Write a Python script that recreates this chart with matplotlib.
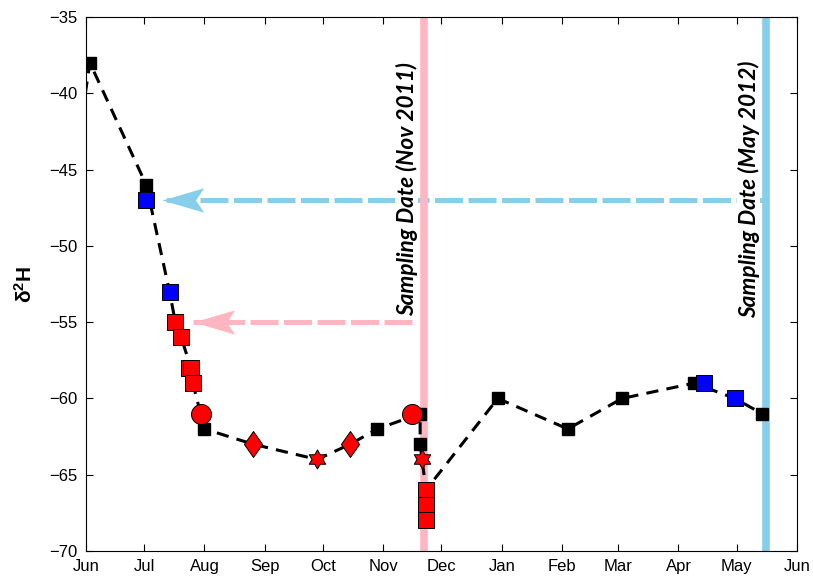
import numpy as np
import matplotlib
matplotlib.use("Agg")
import matplotlib.pyplot as plt
import matplotlib.dates as mdates
from matplotlib.path import Path

plt.rcParams['font.family'] = ['Liberation Sans', 'DejaVu Sans']
plt.rcParams['mathtext.fontset'] = 'custom'
plt.rcParams['mathtext.rm'] = 'Liberation Sans'
plt.rcParams['mathtext.bf'] = 'Liberation Sans:bold'

# black dashed line (all samples), first point lies before Jun 1
line_dates = np.array(['2011-05-27', '2011-06-03', '2011-07-02', '2011-07-14', '2011-07-17',
                       '2011-07-20', '2011-07-25', '2011-07-26', '2011-08-01', '2011-08-26',
                       '2011-09-28', '2011-10-15', '2011-10-29', '2011-11-20', '2011-11-20',
                       '2011-11-21', '2011-11-23', '2011-12-30', '2012-02-04', '2012-03-03',
                       '2012-04-09', '2012-04-30', '2012-05-14'], dtype='datetime64[D]')
line_vals = [-44, -38, -46, -53, -55, -56, -58, -59, -62, -63, -64, -63, -62, -61, -63,
             -64, -66, -60, -62, -60, -59, -60, -61]

# black squares
blk_dates = np.array(['2011-06-03', '2011-07-02', '2011-08-01', '2011-10-29', '2011-11-20',
                      '2011-11-20', '2011-12-30', '2012-02-04', '2012-03-03', '2012-04-09',
                      '2012-05-14'], dtype='datetime64[D]')
blk_vals = [-38, -46, -62, -62, -61, -63, -60, -62, -60, -59, -61]

# blue squares
blue_dates = np.array(['2011-07-02', '2011-07-14', '2012-04-14', '2012-04-30'], dtype='datetime64[D]')
blue_vals = [-47, -53, -59, -60]

# red squares
rsq_dates = np.array(['2011-07-17', '2011-07-20', '2011-07-24', '2011-07-25', '2011-07-26',
                      '2011-11-23', '2011-11-23', '2011-11-23'], dtype='datetime64[D]')
rsq_vals = [-55, -56, -58, -58, -59, -66, -67, -68]

# red circles, diamonds, stars
rci_dates = np.array(['2011-07-30', '2011-11-16'], dtype='datetime64[D]')
rci_vals = [-61, -61]
rdi_dates = np.array(['2011-08-26', '2011-10-15'], dtype='datetime64[D]')
rdi_vals = [-63, -63]
rst_dates = np.array(['2011-09-28', '2011-11-21'], dtype='datetime64[D]')
rst_vals = [-64, -64]

# sampling dates
samp_dates = np.array(['2011-11-22', '2012-05-16'], dtype='datetime64[D]')
samp_labels = ['Sampling Date (Nov 2011)', 'Sampling Date (May 2012)']
samp_colors = ['#FFB6C1', '#87CEEB']

# arrows: tail date, tip date, level
arr_tail = np.array(['2012-05-15', '2011-11-16'], dtype='datetime64[D]')
arr_tip = np.array(['2011-07-10', '2011-07-26'], dtype='datetime64[D]')
arr_vals = [-47, -55]
arr_colors = ['#87CEEB', '#FFB6C1']

# marker shapes
ang = np.deg2rad(90 + 30 * np.arange(12))
rad = np.where(np.arange(12) % 2 == 0, 1.0, 1 / np.sqrt(3))
hexagram = Path(np.column_stack([rad * np.cos(ang), rad * np.sin(ang)]).tolist() + [[0, 1]], closed=True)
diamond = Path([(0, 1), (0.7, 0), (0, -1), (-0.7, 0), (0, 1)], closed=True)
head = Path([(0, 0), (41, 12), (33, 0), (41, -12), (0, 0)], closed=True)

fig = plt.figure(figsize=(8.13, 5.78), dpi=100)
ax = fig.add_axes([86 / 813, 27 / 578, 711 / 813, 534 / 578])

for t0, t1, v, c in zip(arr_tail, arr_tip, arr_vals, arr_colors):
    ax.plot([t0, t1], [v, v], color=c, lw=3.6, dashes=(5.6, 1.1), zorder=1, solid_capstyle='butt')
    ax.plot([t1], [v], marker=head, ms=60, color=c, mec='none', ls='none', zorder=1.5)

for d, lab, c in zip(samp_dates, samp_labels, samp_colors):
    ax.axvline(d, color=c, lw=5.5, zorder=2)
    ax.annotate(lab, xy=(d, -46.3), xytext=(-12.5, 0), textcoords='offset points',
                rotation=90, ha='center', va='center', fontsize=16.3, fontweight='bold',
                fontstyle='italic', family=['Lato', 'DejaVu Sans'], zorder=3,
                bbox=dict(facecolor='white', edgecolor='none', pad=0.5))

ax.plot(line_dates, line_vals, color='black', lw=2.2, dashes=(4, 2.7), zorder=4)
ax.plot(blk_dates, blk_vals, 's', color='black', ms=8.6, zorder=5)

ax.plot(blue_dates, blue_vals, 's', mfc='blue', mec='black', mew=0.7, ms=11.3, zorder=6)
ax.plot(rsq_dates, rsq_vals, 's', mfc='red', mec='black', mew=0.7, ms=11.3, zorder=6)
ax.plot(rci_dates, rci_vals, 'o', mfc='red', mec='black', mew=0.7, ms=14.4, zorder=6)
ax.plot(rdi_dates, rdi_vals, marker=diamond, ls='none', mfc='red', mec='black', mew=0.7, ms=18.7, zorder=6)
ax.plot(rst_dates, rst_vals, marker=hexagram, ls='none', mfc='red', mec='black', mew=0.7, ms=13.7, zorder=6)

ax.set_xlim(np.datetime64('2011-06-01'), np.datetime64('2012-06-01'))
ax.set_ylim(-70, -35)
ax.xaxis.set_major_locator(mdates.MonthLocator())
ax.xaxis.set_major_formatter(mdates.DateFormatter('%b'))
ax.set_yticks(np.arange(-70, -34, 5))
ax.tick_params(direction='in', length=5, width=0.8, top=True, right=True, labelsize=12, pad=6)
for s in ax.spines.values():
    s.set_linewidth(0.8)
ax.set_ylabel(r'$\mathbf{\delta^2 H}$', fontsize=15, labelpad=10)

fig.savefig('out.png', dpi=100)
